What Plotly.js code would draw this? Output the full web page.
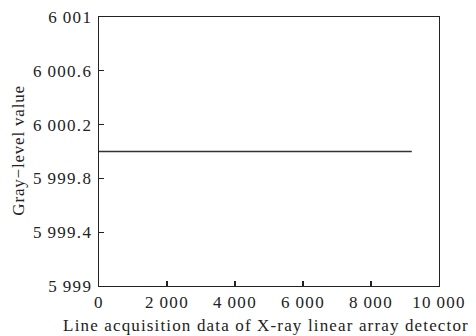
<!DOCTYPE html>
<html><head><meta charset="utf-8">
<script src="https://cdn.plot.ly/plotly-3.0.1.min.js"></script>
<style>
html,body{margin:0;padding:0;background:#fff}
#chart .xtick text, #chart .ytick text{letter-spacing:1.3px}
#chart .annotation[data-index="0"] .annotation-text{letter-spacing:1.15px}
#chart .annotation[data-index="1"] .annotation-text{letter-spacing:0.8px}
</style>
</head><body>
<div id="chart" style="width:476px;height:336px"></div>
<script>
const xVals = [0, 9200];
const yVals = [6000, 6000];
const xTickVals = [0, 2000, 4000, 6000, 8000, 10000];
const xTickText = ["0", "2\u2009000", "4\u2009000", "6\u2009000", "8\u2009000", "10\u2009000"];
const yTickVals = [5999, 5999.4, 5999.8, 6000.2, 6000.6, 6001];
const yTickText = ["5\u2009999", "5\u2009999.4", "5\u2009999.8", "6\u2009000.2", "6\u2009000.6", "6\u2009001"];
const xTitle = "Line acquisition data of X-ray linear array detector";
const yTitle = "Gray\u2212level value";

const font = {family: "Liberation Serif, Times New Roman, serif", size: 17, color: "#222"};
Plotly.newPlot("chart", [{
  x: xVals, y: yVals, type: "scatter", mode: "lines",
  line: {color: "#333", width: 1.4}, hoverinfo: "none"
}], {
  width: 476, height: 336,
  margin: {l: 99, r: 37, t: 17, b: 50},
  paper_bgcolor: "#fff", plot_bgcolor: "#fff",
  showlegend: false,
  font: font,
  xaxis: {
    range: [0, 10000], tickvals: xTickVals, ticktext: xTickText,
    ticks: "inside", ticklen: 5, tickcolor: "#222", tickwidth: 1.2,
    showline: true, linecolor: "#222", linewidth: 1.4, mirror: true,
    showgrid: false, zeroline: false, fixedrange: true, ticklabelstandoff: 0
  },
  yaxis: {
    range: [5999, 6001], tickvals: yTickVals, ticktext: yTickText,
    ticks: "inside", ticklen: 5, tickcolor: "#222", tickwidth: 1.2,
    showline: true, linecolor: "#222", linewidth: 1.4, mirror: true,
    showgrid: false, zeroline: false, fixedrange: true, ticklabelstandoff: 2
  },
  annotations: [
    {text: xTitle, xref: "paper", yref: "paper", x: 0.49, y: -0.148,
     xanchor: "center", yanchor: "middle", showarrow: false, font: font},
    {text: yTitle, xref: "paper", yref: "paper", x: -0.238, y: 0.505,
     xanchor: "center", yanchor: "middle", showarrow: false, textangle: -90, font: font}
  ]
}, {staticPlot: true, displayModeBar: false});
</script>
</body></html>
